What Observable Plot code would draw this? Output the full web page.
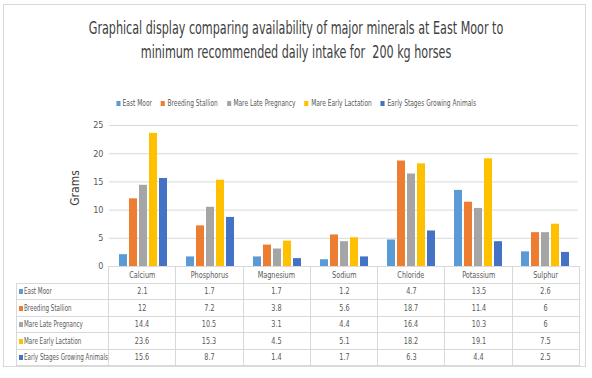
<!DOCTYPE html>
<html><head><meta charset="utf-8">
<script src="https://cdn.jsdelivr.net/npm/d3@7"></script>
<script src="https://cdn.jsdelivr.net/npm/@observablehq/plot@0.6"></script>
<style>
body{margin:0;background:#fff;font-family:"DejaVu Sans Condensed","Liberation Sans",sans-serif;width:592px;height:378px;position:relative;overflow:hidden;}
#frame{position:absolute;left:3px;top:4px;width:583px;height:363px;border:1px solid #d9d9d9;box-sizing:border-box;}
#title{position:absolute;left:0;top:16px;width:592px;text-align:center;font-size:17px;line-height:24px;color:#404040;transform:scaleX(0.73);transform-origin:296px 0;}
#legend{position:absolute;left:0;top:99px;width:592px;display:flex;justify-content:center;gap:11px;font-size:8px;color:#595959;transform:scaleX(0.82);transform-origin:296px 0;}
#legend span.sw{display:inline-block;width:5px;height:5px;margin-right:3px;}
#chart{position:absolute;left:0;top:110px;}
#ylabel{position:absolute;left:62px;top:178px;width:26px;height:20px;font-size:12px;line-height:20px;color:#404040;white-space:nowrap;text-align:center;}
#ylabel div{position:absolute;left:50%;top:50%;transform:translate(-50%,-50%) rotate(-90deg);}
#tbl{position:absolute;left:16px;top:266px;border-collapse:collapse;table-layout:fixed;width:563px;font-size:9px;color:#595959;}
#tbl td{border:1px solid #d9d9d9;padding:0;height:15.5px;text-align:center;white-space:nowrap;overflow:hidden;}
#tbl td span.t{display:inline-block;transform:scaleX(0.8);}
#tbl td.rl{text-align:left;padding-left:2px;}
#tbl td.rl span.t{transform:scaleX(0.69);transform-origin:0 50%;}
#tbl td.rl span.sq{display:inline-block;width:4px;height:5px;margin-right:1px;}
</style></head>
<body>
<div id="frame"></div>
<div id="title">Graphical display comparing availability of major minerals at East Moor to<br>minimum recommended daily intake for&nbsp; 200 kg horses</div>
<div id="legend"></div>
<div id="chart"></div>
<div id="ylabel"><div>Grams</div></div>
<table id="tbl"></table>
<script>
const minerals = ["Calcium","Phosphorus","Magnesium","Sodium","Chloride","Potassium","Sulphur"];
const seriesNames = ["East Moor","Breeding Stallion","Mare Late Pregnancy","Mare Early Lactation","Early Stages Growing Animals"];
const eastMoor = [2.1,1.7,1.7,1.2,4.7,13.5,2.6];
const breedingStallion = [12,7.2,3.8,5.6,18.7,11.4,6];
const mareLatePregnancy = [14.4,10.5,3.1,4.4,16.4,10.3,6];
const mareEarlyLactation = [23.6,15.3,4.5,5.1,18.2,19.1,7.5];
const earlyStagesGrowing = [15.6,8.7,1.4,1.7,6.3,4.4,2.5];
const seriesColors = ["#5B9BD5","#ED7D31","#A5A5A5","#FFC000","#4472C4"];
const yTicks = [0,5,10,15,20,25];

const seriesValues = [eastMoor, breedingStallion, mareLatePregnancy, mareEarlyLactation, earlyStagesGrowing];
const data = [];
seriesNames.forEach((s, i) => minerals.forEach((m, j) => data.push({series: s, mineral: m, value: seriesValues[i][j]})));

const chart = Plot.plot({
  width: 592, height: 160,
  marginTop: 15, marginBottom: 4, marginLeft: 108, marginRight: 13,
  style: {fontFamily: '"DejaVu Sans Condensed",sans-serif', fontSize: "9px", color: "#595959", background: "transparent"},
  fx: {domain: minerals, paddingInner: 0, paddingOuter: 0, axis: null, label: null},
  x: {domain: seriesNames, paddingInner: 0.24, paddingOuter: 0.81, axis: null, label: null},
  y: {domain: [0, 25], label: null},
  color: {domain: seriesNames, range: seriesColors},
  marks: [
    Plot.gridY(yTicks.slice(1), {stroke: "#d9d9d9", strokeOpacity: 1}),
    Plot.barY(data, {fx: "mineral", x: "series", y: "value", fill: "series"}),
    Plot.axisY(yTicks, {tickSize: 0, tickPadding: 6, label: null, fill: "#595959"})
  ]
});
document.getElementById("chart").appendChild(chart);

const legend = document.getElementById("legend");
seriesNames.forEach((s, i) => {
  const d = document.createElement("div");
  d.innerHTML = `<span class="sw" style="background:${seriesColors[i]}"></span>${s}`;
  legend.appendChild(d);
});

const tbl = document.getElementById("tbl");
let html = `<colgroup><col style="width:92px">${minerals.map(() => '<col style="width:67.3px">').join("")}</colgroup>`;
html += `<tr><td style="border-top:none;border-left:none"></td>${minerals.map(m => `<td><span class="t">${m}</span></td>`).join("")}</tr>`;
seriesNames.forEach((s, i) => {
  html += `<tr><td class="rl"><span class="sq" style="background:${seriesColors[i]}"></span><span class="t">${s}</span></td>${seriesValues[i].map(v => `<td><span class="t">${v}</span></td>`).join("")}</tr>`;
});
tbl.innerHTML = html;
</script>
</body></html>
